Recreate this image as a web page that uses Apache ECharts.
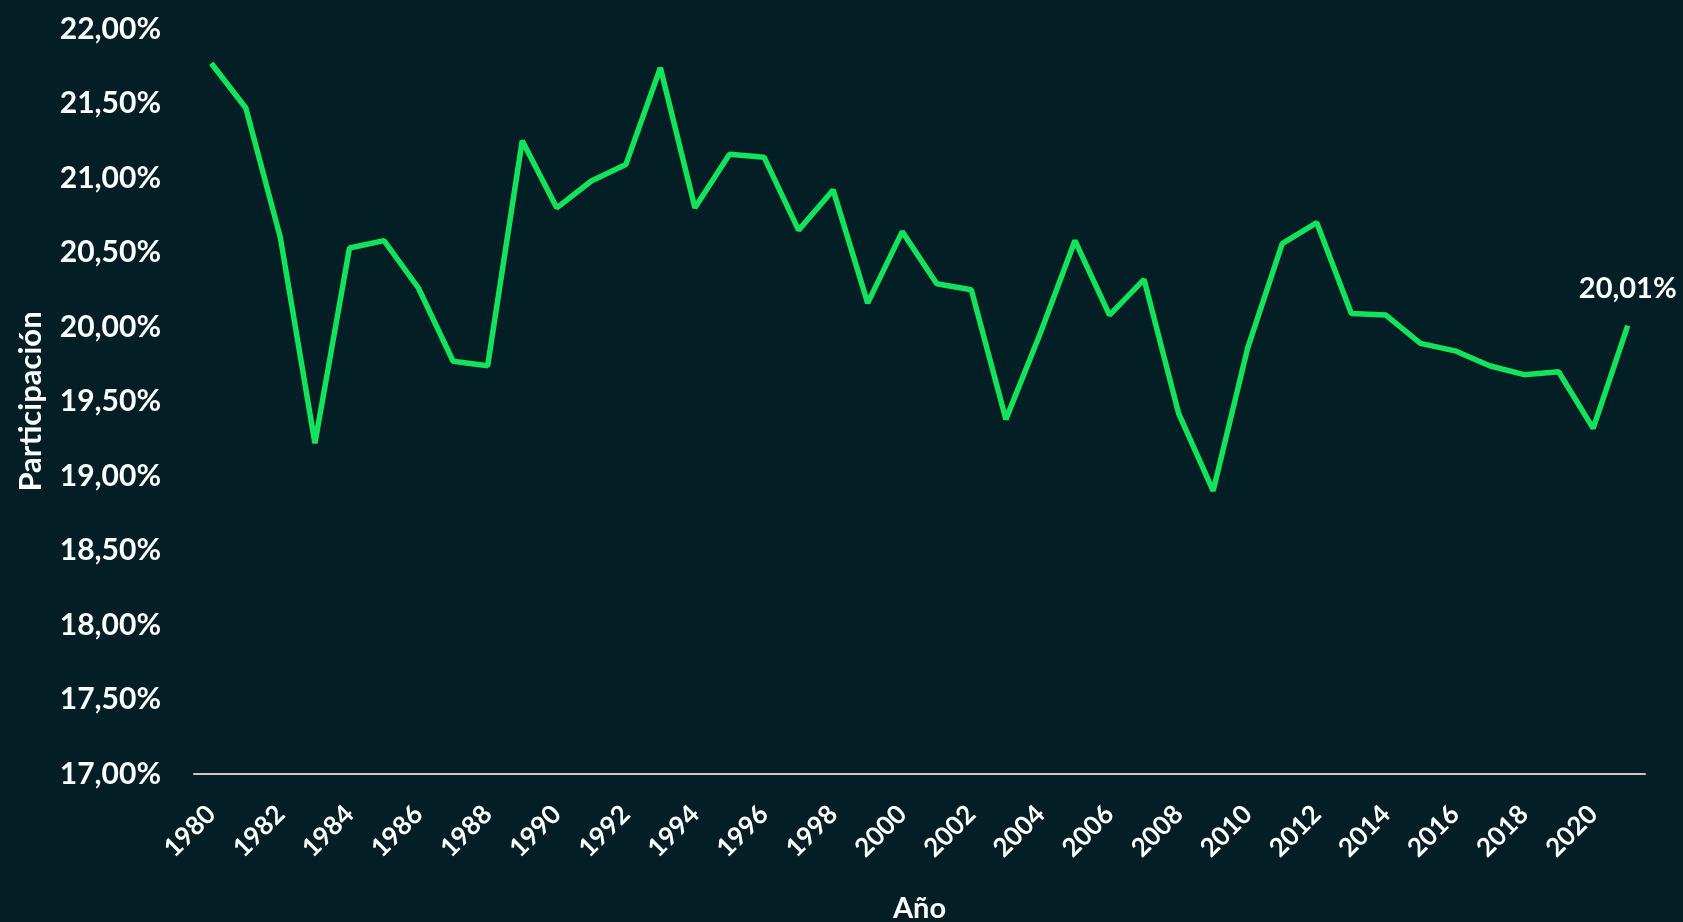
<!DOCTYPE html>
<html>
<head>
<meta charset="utf-8">
<script src="https://cdn.jsdelivr.net/npm/echarts@6/dist/echarts.min.js"></script>
<style>
  html, body { margin: 0; padding: 0; background: #041e26; }
  #chart { width: 1683px; height: 922px; }
</style>
</head>
<body>
<div id="chart"></div>
<script>
var years = [];
for (var y = 1980; y <= 2021; y++) years.push(String(y));

// participación (%)
var participacion = [
  21.77, 21.47, 20.60, 19.22, 20.53, 20.58, 20.26, 19.77, 19.74, 21.25,
  20.80, 20.98, 21.09, 21.74, 20.80, 21.16, 21.14, 20.65, 20.92, 20.16,
  20.64, 20.29, 20.25, 19.38, 19.96, 20.58, 20.08, 20.32, 19.42, 18.90,
  19.86, 20.56, 20.70, 20.09, 20.08, 19.89, 19.84, 19.74, 19.68, 19.70,
  19.32, 20.01
];

var fmt = function (v) { return v.toFixed(2).replace('.', ',') + '%'; };

var myChart = echarts.init(document.getElementById('chart'));

var seriesData = participacion.map(function (v, i) {
  if (i === participacion.length - 1) {
    return {
      value: v,
      label: {
        show: true,
        position: 'top',
        distance: 22,
        formatter: function (p) { return fmt(p.value); },
        color: '#ffffff',
        fontFamily: 'Lato',
        fontWeight: 'bold',
        fontSize: 29
      }
    };
  }
  return v;
});

myChart.setOption({
  backgroundColor: '#041e26',
  grid: { left: 194, right: 38, top: 29, bottom: 148, outerBoundsMode: 'none' },
  xAxis: {
    type: 'category',
    data: years,
    name: 'Año',
    nameLocation: 'middle',
    nameGap: 120,
    nameTextStyle: { color: '#ffffff', fontFamily: 'Lato', fontWeight: 'bold', fontSize: 29 },
    axisLine: { lineStyle: { color: '#c8c8c8', width: 2 } },
    axisTick: { show: false },
    axisLabel: {
      interval: 1,
      rotate: 45,
      margin: 36,
      color: '#ffffff',
      fontFamily: 'Lato',
      fontWeight: 'bold',
      fontSize: 26
    }
  },
  yAxis: {
    type: 'value',
    min: 17,
    max: 22,
    interval: 0.5,
    name: 'Participación',
    nameLocation: 'middle',
    nameGap: 148,
    nameTextStyle: { color: '#ffffff', fontFamily: 'Lato', fontWeight: 'bold', fontSize: 31 },
    axisLine: { show: false },
    axisTick: { show: false },
    splitLine: { show: false },
    axisLabel: {
      margin: 33,
      color: '#ffffff',
      fontFamily: 'Lato',
      fontWeight: 'bold',
      fontSize: 30,
      formatter: fmt
    }
  },
  series: [{
    type: 'line',
    data: seriesData,
    symbol: 'circle',
    symbolSize: 0,
    lineStyle: { color: '#12e35b', width: 5.5 },
    itemStyle: { color: '#12e35b' },
    animation: false
  }]
});
</script>
</body>
</html>
